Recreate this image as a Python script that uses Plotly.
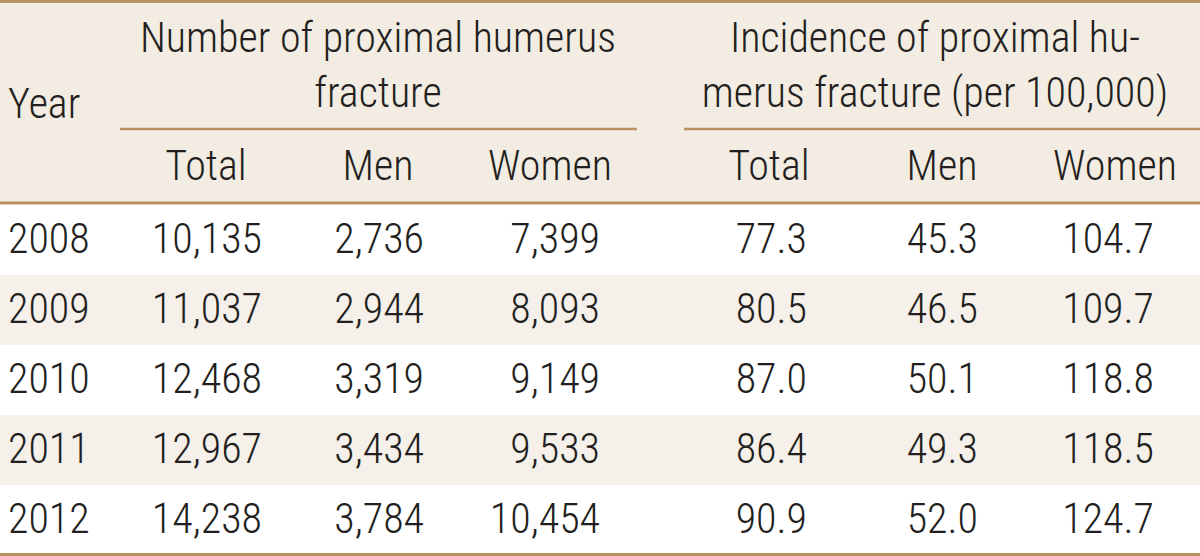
import plotly.graph_objects as go

# ---- data ----
years = ["2008", "2009", "2010", "2011", "2012"]
num_total = [10135, 11037, 12468, 12967, 14238]
num_men = [2736, 2944, 3319, 3434, 3784]
num_women = [7399, 8093, 9149, 9533, 10454]
inc_total = [77.3, 80.5, 87.0, 86.4, 90.9]
inc_men = [45.3, 46.5, 50.1, 49.3, 52.0]
inc_women = [104.7, 109.7, 118.8, 118.5, 124.7]

year_label = "Year"
group_labels = ["Number of proximal humerus<br>fracture",
                "Incidence of proximal hu-<br>merus fracture (per 100,000)"]
sub_labels = ["Total", "Men", "Women", "Total", "Men", "Women"]

# ---- layout constants ----
W, H = 1200, 556
FONT = "Roboto Condensed, Liberation Sans Narrow, DejaVu Sans Condensed, sans-serif"
FS = 42
TXT = "#231f20"
LINE = "#b9935f"
HEAD_BG = "#f3ece2"
STRIPE_BG = "#f5f0ea"

header_bottom = 204
row_h = 70
row_top0 = 205
row_centers = [row_top0 + row_h * i + row_h / 2 + 2.5 for i in range(len(years))]

sub_centers = [206, 378, 550, 769, 942, 1115]
right_edges = [262, 424, 600, 807, 978, 1154]
group_centers = [378, 935]

fmt_int = lambda v: f"{v:,}"
fmt_dec = lambda v: f"{v:.1f}"
columns = [
    [fmt_int(v) for v in num_total],
    [fmt_int(v) for v in num_men],
    [fmt_int(v) for v in num_women],
    [fmt_dec(v) for v in inc_total],
    [fmt_dec(v) for v in inc_men],
    [fmt_dec(v) for v in inc_women],
]

fig = go.Figure()

font = dict(family=FONT, size=FS, color=TXT, weight=300)

# Year column
fig.add_trace(go.Scatter(x=[8] * len(years), y=row_centers, text=years,
                         mode="text", textposition="middle right",
                         textfont=font, hoverinfo="skip", showlegend=False))
# Data columns (right-aligned)
for xr, col in zip(right_edges, columns):
    fig.add_trace(go.Scatter(x=[xr] * len(col), y=row_centers, text=col,
                             mode="text", textposition="middle left",
                             textfont=font, hoverinfo="skip", showlegend=False))

# Header texts
fig.add_trace(go.Scatter(x=[8], y=[107], text=[year_label], mode="text",
                         textposition="middle right", textfont=font,
                         hoverinfo="skip", showlegend=False))
fig.add_trace(go.Scatter(x=group_centers, y=[69, 69], text=group_labels,
                         mode="text", textposition="middle center",
                         textfont=font, hoverinfo="skip", showlegend=False))
fig.add_trace(go.Scatter(x=sub_centers, y=[169] * 6, text=sub_labels,
                         mode="text", textposition="middle center",
                         textfont=font, hoverinfo="skip", showlegend=False))

shapes = []
shapes.append(dict(type="rect", x0=0, x1=W, y0=0, y1=header_bottom,
                   fillcolor=HEAD_BG, line_width=0, layer="below"))
for i in range(len(years)):
    if i % 2 == 1:
        shapes.append(dict(type="rect", x0=0, x1=W,
                           y0=row_top0 + row_h * i, y1=row_top0 + row_h * (i + 1),
                           fillcolor=STRIPE_BG, line_width=0, layer="below"))
shapes.append(dict(type="line", x0=0, x1=W, y0=1.5, y1=1.5,
                   line=dict(color=LINE, width=3)))
shapes.append(dict(type="line", x0=120, x1=637, y0=129, y1=129,
                   line=dict(color=LINE, width=2.5)))
shapes.append(dict(type="line", x0=684, x1=W, y0=129, y1=129,
                   line=dict(color=LINE, width=2.5)))
shapes.append(dict(type="line", x0=0, x1=W, y0=203, y1=203,
                   line=dict(color=LINE, width=3)))
shapes.append(dict(type="line", x0=0, x1=W, y0=554.5, y1=554.5,
                   line=dict(color=LINE, width=3)))

fig.update_layout(
    width=W, height=H,
    margin=dict(l=0, r=0, t=0, b=0),
    paper_bgcolor="white", plot_bgcolor="white",
    xaxis=dict(range=[0, W], visible=False, fixedrange=True),
    yaxis=dict(range=[H, 0], visible=False, fixedrange=True),
    shapes=shapes,
    showlegend=False,
)

fig.write_html("out.html", config={"displayModeBar": False},
               post_script="document.body.style.margin='0';document.body.style.overflow='hidden';")
